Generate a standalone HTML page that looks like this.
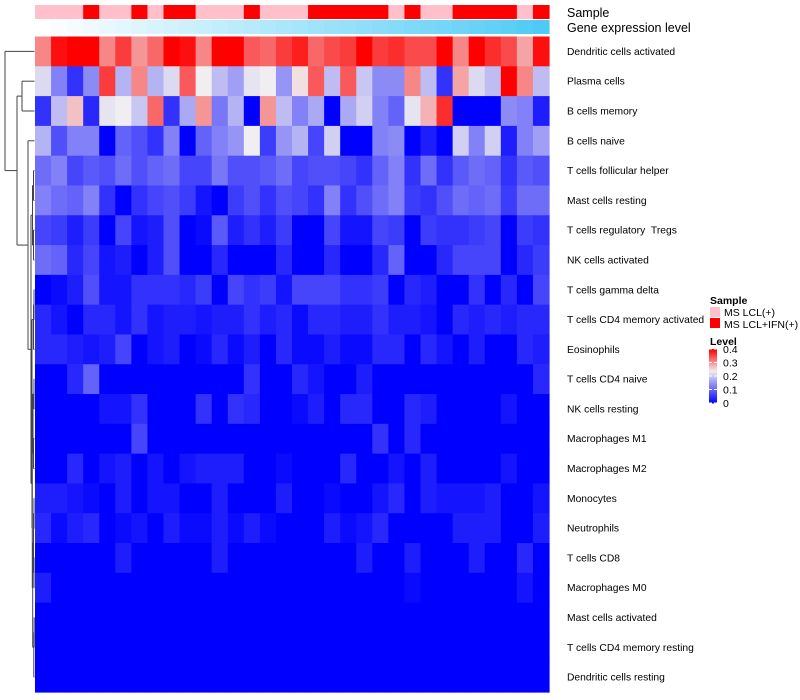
<!DOCTYPE html>
<html><head><meta charset="utf-8">
<style>
html,body{margin:0;padding:0;background:#fff;}
svg{display:block;font-family:"Liberation Sans",sans-serif;}
#rowLabels text{white-space:pre;}
</style></head>
<body>
<svg id="chart" width="800" height="700" viewBox="0 0 800 700" xmlns="http://www.w3.org/2000/svg">
  <g id="dendro" stroke="#444" stroke-width="1" fill="none"></g>
  <g id="sampleBar"></g>
  <g id="geneBar"></g>
  <g id="cells"></g>
  <g id="rowLabels" font-size="10.3" fill="#000"></g>
  <text x="567" y="17" font-size="12.5">Sample</text>
  <text x="567" y="32" font-size="12.5">Gene expression level</text>
  <g id="legend" font-size="10.5"></g>
</svg>
<script>
const rowNames = ["Dendritic cells activated","Plasma cells","B cells memory","B cells naive","T cells follicular helper","Mast cells resting","T cells regulatory\u00a0\u00a0Tregs","NK cells activated","T cells gamma delta","T cells CD4 memory activated","Eosinophils","T cells CD4 naive","NK cells resting","Macrophages M1","Macrophages M2","Monocytes","Neutrophils","T cells CD8","Macrophages M0","Mast cells activated","T cells CD4 memory resting","Dendritic cells resting"];
const sampleGroups = ["LCL","LCL","LCL","IFN","LCL","LCL","IFN","LCL","IFN","IFN","LCL","LCL","LCL","IFN","LCL","LCL","LCL","IFN","IFN","IFN","IFN","IFN","LCL","IFN","LCL","LCL","IFN","IFN","IFN","IFN","LCL","IFN"];
const geneLevel = [0.00,0.03,0.06,0.09,0.12,0.15,0.18,0.21,0.24,0.27,0.30,0.33,0.36,0.39,0.42,0.45,0.48,0.51,0.54,0.57,0.60,0.63,0.66,0.69,0.72,0.75,0.78,0.81,0.85,0.88,0.92,0.96];
const legendTicks = [0,0.1,0.2,0.3,0.4];
const r0 = [.31,.39,.40,.40,.31,.36,.30,.33,.40,.39,.31,.40,.40,.34,.33,.36,.38,.33,.35,.36,.40,.36,.37,.35,.35,.40,.31,.40,.37,.35,.29,.39];
const r1 = [.22,.13,.05,.14,.36,.18,.31,.18,.22,.34,.24,.19,.16,.23,.24,.15,.25,.34,.19,.34,.20,.14,.14,.31,.19,.05,.29,.22,.19,.40,.31,.19];
const r2 = [.05,.19,.27,.04,.23,.24,.20,.33,.05,.17,.30,.12,.18,0,.30,.19,.13,.17,0,.17,.21,.13,.10,.23,.28,.37,0,0,0,.14,.13,.03];
const r3 = [.18,.08,.13,.13,0,.10,.08,.05,.13,0,.10,.13,.15,.24,.06,.15,.18,.07,.21,0,0,.13,.14,0,.03,0,.21,.13,.21,.03,.13,.16];
const r4 = [.11,.13,.07,.09,.08,.11,.08,.10,.11,.07,.07,.12,.08,.08,.09,.11,.07,.08,.08,.07,.05,.10,.13,.05,.11,.05,.09,.11,.10,.05,.09,.08];
const r5 = [.13,.11,.10,.13,.05,0,.05,.07,.08,.06,.02,0,.06,.08,.05,.08,.07,.05,.13,.05,.08,.11,.13,.06,.05,.08,.11,.10,.11,.06,.11,.11];
const r6 = [.07,.06,.03,.06,0,.07,.02,.03,.08,0,.01,.09,.03,.05,.03,.06,0,0,.07,.02,.02,.07,.06,0,.06,.05,.05,.06,.07,0,.06,.05];
const r7 = [.11,.10,.04,.07,.02,.03,0,.03,.08,0,0,.04,0,0,0,.04,0,0,.04,0,0,.04,.10,0,0,.04,.07,.07,.07,0,.04,.06];
const r8 = [0,.01,.03,.08,.02,.02,.05,.05,.05,.04,.06,0,.07,.05,.06,.02,.07,.07,.07,.05,.05,.06,0,.04,.03,0,0,.05,0,.04,0,.07];
const r9 = [.04,.02,0,.04,.04,.02,.05,.02,.03,.03,.02,.03,.03,.05,.03,.04,.01,.04,.04,.03,.03,.05,.03,.03,.02,0,.04,.03,.04,.03,.04,.04];
const r10 = [.04,.04,.03,.02,.03,.07,0,.02,.03,0,.01,.04,.01,.03,0,.04,.01,.01,.03,.01,.01,.04,.04,0,.04,.02,0,.03,0,0,.04,.03];
const r11 = [0,0,.04,.10,0,0,0,0,0,0,0,0,0,.05,0,0,.04,.02,0,0,.03,0,0,0,0,0,0,0,0,0,0,.04];
const r12 = [0,0,0,0,.02,.02,.05,0,0,0,.05,0,.05,.04,0,0,.01,.03,0,.04,.04,0,0,.04,.03,0,0,0,0,.02,0,0];
const r13 = [0,0,0,0,0,0,.07,0,0,0,0,0,0,0,0,0,0,0,0,0,0,.05,0,.04,0,0,0,0,0,0,0,0];
const r14 = [0,0,.04,0,.02,.03,0,.02,0,.02,.03,.03,.03,0,0,.01,0,0,0,.04,0,0,.02,0,.03,0,0,0,0,.02,0,0];
const r15 = [.03,.03,.02,.01,0,.03,0,.02,.02,0,0,.03,0,0,0,.03,0,0,.01,0,0,.02,.04,0,.03,.02,.02,.02,.03,0,0,.02];
const r16 = [.04,.01,.03,.04,0,.01,.02,0,.03,.01,.01,.03,.01,.03,.01,0,0,0,.03,.01,.02,.04,0,0,0,0,.03,.03,.03,0,0,.03];
const r17 = [0,0,0,0,0,.03,0,0,0,0,0,.03,0,0,0,0,0,0,0,0,.03,0,0,.03,0,0,0,.03,0,0,.04,0];
const r18 = [.03,0,0,0,0,0,0,0,0,0,0,0,0,0,0,0,0,0,0,0,0,0,0,.01,0,0,0,0,0,0,.02,0];
const r19 = [0,0,0,0,0,0,0,0,0,0,0,0,0,0,0,0,0,0,0,0,0,0,0,0,0,0,0,0,0,0,0,0];
const r20 = [0,0,0,0,0,0,0,0,0,0,0,0,0,0,0,0,0,0,0,0,0,0,0,0,0,0,0,0,0,0,0,0];
const r21 = [0,0,0,0,0,0,0,0,0,0,0,0,0,0,0,0,0,0,0,0,0,0,0,0,0,0,0,0,0,0,0,0];
const matrix = [r0,r1,r2,r3,r4,r5,r6,r7,r8,r9,r10,r11,r12,r13,r14,r15,r16,r17,r18,r19,r20,r21];

const NS = "http://www.w3.org/2000/svg";
const X0 = 35, X1 = 549, Y0 = 36.5, Y1 = 692;
const nCols = r0.length, nRows = matrix.length;
const cw = (X1 - X0) / nCols, rh = (Y1 - Y0) / nRows;
const xPos = i => X0 + i * cw;
const yPos = j => Y0 + j * rh;
function lerp(a,b,t){return Math.round(a+(b-a)*t);}
function colorOf(v){
  const w = 0.24, max = 0.4;
  if (v <= w){const t=Math.max(0,v)/w; return `rgb(${lerp(0,240,t)},${lerp(0,238,t)},${lerp(255,240,t)})`;}
  const t=Math.min(1,(v-w)/(max-w)); return `rgb(${lerp(240,255,t)},${lerp(238,0,t)},${lerp(240,0,t)})`;
}
function mk(tag, attrs, parent){const e=document.createElementNS(NS,tag);for(const k in attrs)e.setAttribute(k,attrs[k]);parent.appendChild(e);return e;}

const cells = document.getElementById('cells');
matrix.forEach((row,j)=>row.forEach((v,i)=>{
  const r = mk('rect',{x:xPos(i),y:yPos(j),width:cw+0.6,height:rh+0.6,fill:colorOf(v)},cells);
  
  
}));

const sb = document.getElementById('sampleBar');
sampleGroups.forEach((g,i)=>{
  const r = mk('rect',{x:xPos(i),y:5,width:cw+0.6,height:14,fill:g==="IFN"?"#FF0000":"#FFC0CB"},sb);
  
  
});
const gb = document.getElementById('geneBar');
geneLevel.forEach((g,i)=>{
  const fill = `rgb(${lerp(255,70,g)},${lerp(255,200,g)},${lerp(255,245,g)})`;
  const r = mk('rect',{x:xPos(i),y:20,width:cw+0.6,height:14,fill:fill},gb);
  
  
});

const rl = document.getElementById('rowLabels');
rowNames.forEach((n,j)=>{
  const t = mk('text',{x:567,y:yPos(j)+rh/2+3.5},rl);
  t.textContent = n;
  
  
});

const dg = document.getElementById('dendro');
const cy = j => yPos(j)+rh/2;
function seg(x1,y1,x2,y2){const l=mk('line',{x1:x1,y1:y1,x2:x2,y2:y2},dg);
  
  }
function node(x, ya, xa, yb, xb){seg(x,ya,x,yb);seg(x,ya,xa,ya);seg(x,yb,xb,yb);}
const leafX = 34.5;
node(33.5,cy(4),leafX,cy(5),leafX);
node(33.5,cy(6),leafX,cy(7),leafX);
node(32.5,(cy(4)+cy(5))/2,33.5,(cy(6)+cy(7))/2,33.5);
node(34,cy(8),leafX,cy(9),leafX);
node(33.5,(cy(8)+cy(9))/2,34,cy(10),leafX);
node(34,cy(11),leafX,cy(12),leafX);
node(33.5,cy(13),leafX,cy(14),leafX);
node(33,(cy(11)+cy(12))/2,34,(cy(13)+cy(14))/2,33.5);
node(34,cy(15),leafX,cy(16),leafX);
node(34,cy(17),leafX,cy(18),leafX);
node(33.5,(cy(15)+cy(16))/2,34,(cy(17)+cy(18))/2,34);
node(34.2,cy(19),leafX,cy(20),leafX);
node(33.8,(cy(19)+cy(20))/2,34.2,cy(21),leafX);
node(32.7,(cy(15)+cy(18))/2,33.5,(cy(19)+cy(21))/2,33.8);
node(32.3,(cy(11)+cy(14))/2,33,(cy(15)+cy(21))/2,32.7);
node(32,(cy(8)+cy(10))/2,33.5,(cy(11)+cy(21))/2,32.3);
node(31,(cy(4)+cy(7))/2,32.5,(cy(8)+cy(21))/2,32);
const dY = ((cy(4)+cy(7))/2 + (cy(8)+cy(21))/2)/2;
node(28,cy(3),leafX,dY,31);
node(22,cy(1),leafX,cy(2),leafX);
node(17,(cy(1)+cy(2))/2,22,(cy(3)+dY)/2,28);
node(5,cy(0),leafX,((cy(1)+cy(2))/2+(cy(3)+dY)/2)/2,17);

const lg = document.getElementById('legend');
function txt(x,y,s,attrs,name){const t=mk('text',Object.assign({x:x,y:y},attrs||{}),lg);t.textContent=s;
  
  return t;}
txt(710,304,"Sample",{'font-weight':'bold'},'sample-legend-title');
const b1 = mk('rect',{x:710,y:307,width:10,height:10,fill:'#FFC0CB'},lg);


const b2 = mk('rect',{x:710,y:318,width:10,height:10,fill:'#FF0000'},lg);


txt(724,316,"MS LCL(+)",{},'legend-entry-ms-lcl');
txt(724,328,"MS LCL+IFN(+)",{},'legend-entry-ms-lcl-ifn');
txt(710,345,"Level",{'font-weight':'bold'},'level-legend-title');
const LB0 = 403, LB1 = 349;
const lv = v => LB0 - (v/0.4)*(LB0-LB1);
for(let k=0;k<56;k++){
  const v0 = 0.4*k/56;
  const r = mk('rect',{x:709,y:lv(v0+0.4/56),width:8,height:(LB0-LB1)/56+0.5,fill:colorOf(v0+0.2/56)},lg);
  
  
}
legendTicks.forEach(v=>{
  const l = mk('line',{x1:709,x2:712,y1:lv(v),y2:lv(v),stroke:'#fff','stroke-width':1},lg);
  
  
  const l2 = mk('line',{x1:714,x2:717,y1:lv(v),y2:lv(v),stroke:'#fff','stroke-width':1},lg);
  
  
  txt(723,lv(v)+4,String(v),{},'colorbar-tick-label');
});
</script>
</body></html>
